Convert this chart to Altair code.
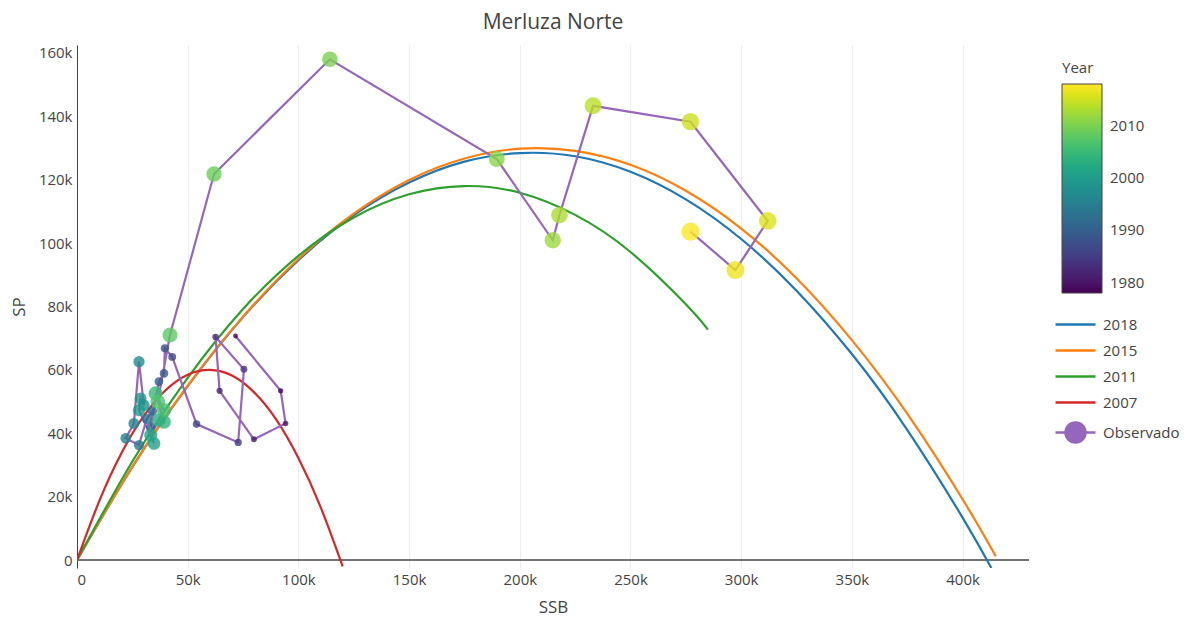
import altair as alt
import pandas as pd

# ---------------- data (values in thousand tonnes) ----------------
years = list(range(1978, 2019))
ssb_obs = [71.6, 92.0, 94.2, 79.9, 64.4, 62.6, 75.4, 72.8, 54.0,
           43.0, 39.7, 39.3, 37.0, 33.3, 34.0, 31.5, 28.0, 22.0, 25.7, 28.0,
           30.2, 28.7, 28.0, 34.8, 33.3, 37.0, 39.3, 35.5, 39.3, 36.5,
           42.0, 61.9, 114.2, 189.6, 214.9, 217.9, 233.1, 277.1, 312.0, 297.4, 277.1]
sp_obs = [70.7, 53.4, 43.1, 38.1, 53.4, 70.4, 60.2, 37.1, 42.9,
          64.1, 66.8, 58.9, 56.3, 42.0, 47.0, 44.5, 36.3, 38.4, 43.1, 62.6,
          48.9, 51.0, 47.3, 36.8, 39.4, 44.2, 43.6, 52.6, 47.3, 50.0,
          71.0, 121.8, 158.0, 126.5, 100.9, 108.8, 143.3, 138.3, 107.0, 91.5, 103.6]

ssb_2018 = [0, 25, 50, 75, 100, 125, 150, 175, 200, 225, 250, 275, 300, 325, 350, 375, 400, 413]
sp_2018 = [0, 29.4, 54.9, 76.7, 94.6, 108.8, 119.1, 125.7, 128.4, 127.4, 122.5, 113.8, 101.3, 85.0, 65.0, 41.1, 13.4, -2.5]

ssb_2015 = [0, 25, 50, 75, 100, 125, 150, 175, 200, 225, 250, 275, 300, 325, 350, 375, 400, 415]
sp_2015 = [0, 29.4, 55.0, 76.8, 95.0, 109.3, 119.9, 126.7, 129.8, 129.1, 124.7, 116.5, 104.6, 88.9, 69.4, 46.2, 19.2, 1.2]

ssb_2011 = [0, 25, 50, 75, 100, 125, 150, 175, 200, 225, 250, 275, 285]
sp_2011 = [0, 31.1, 57.5, 79.2, 96.0, 108.1, 115.4, 118.0, 115.9, 108.9, 97.2, 80.7, 72.7]

ssb_2007 = [0, 10, 20, 30, 40, 50, 60, 70, 80, 90, 100, 110, 120]
sp_2007 = [0, 18.5, 33.6, 45.3, 53.6, 58.5, 60.0, 58.2, 52.9, 44.3, 32.2, 16.8, -2.0]

series_names = ["2018", "2015", "2011", "2007", "Observado"]
series_colors = ["#1f77b4", "#ff7f0e", "#2ca02c", "#d62728", "#9467bd"]

x_ticks = [0, 50000, 100000, 150000, 200000, 250000, 300000, 350000, 400000]
y_ticks = [0, 20000, 40000, 60000, 80000, 100000, 120000, 140000, 160000]
year_ticks = [1980, 1990, 2000, 2010]

# ---------------- tables ----------------
obs = pd.DataFrame({"Year": years,
                    "SSB": [v * 1000 for v in ssb_obs],
                    "SP": [v * 1000 for v in sp_obs]})
obs["series"] = "Observado"

rows = []
for name, xs, ys in [("2018", ssb_2018, sp_2018), ("2015", ssb_2015, sp_2015),
                     ("2011", ssb_2011, sp_2011), ("2007", ssb_2007, sp_2007)]:
    for a, b in zip(xs, ys):
        rows.append({"series": name, "SSB": a * 1000, "SP": b * 1000})
curves = pd.DataFrame(rows)
legend_rows = pd.DataFrame({"series": series_names})

FONT = "Open Sans"
TXT = "#444444"
KFMT = "datum.value == 0 ? '0' : format(datum.value / 1000, 'd') + 'k'"

xscale = alt.Scale(domain=[0, 430000], nice=False, zero=False)
yscale = alt.Scale(domain=[-2500, 162500], nice=False, zero=False)

x_enc = alt.X("SSB:Q", scale=xscale,
              axis=alt.Axis(title="SSB", values=x_ticks, labelExpr=KFMT, domain=False,
                            ticks=False, labelPadding=4, titlePadding=12))
y_enc = alt.Y("SP:Q", scale=yscale,
              axis=alt.Axis(title="SP", values=y_ticks, labelExpr=KFMT, domain=True,
                            domainColor=TXT, ticks=False, labelPadding=5, titlePadding=10))

series_scale = alt.Scale(domain=series_names, range=series_colors)


def ring(r):
    return "M-{r},0A{r},{r},0,1,1,{r},0A{r},{r},0,1,1,-{r},0".format(r=r)


LINE_SYM = "M-2,0H2"
OBS_SYM = LINE_SYM + "".join(ring(r) for r in [1.0, 0.82, 0.64, 0.46, 0.28, 0.1])
shape_scale = alt.Scale(domain=series_names, range=[LINE_SYM, LINE_SYM, LINE_SYM, LINE_SYM, OBS_SYM])


def series_legend():
    return alt.Legend(title=None, orient="none", legendX=987, legendY=268,
                      symbolSize=400, symbolOpacity=1, symbolStrokeWidth=2.5,
                      labelFontSize=15, labelColor=TXT, labelFont=FONT,
                      labelOffset=16, rowPadding=6)


zero = alt.Chart(pd.DataFrame({"z": [0]})).mark_rule(color=TXT, strokeWidth=1.5).encode(
    y=alt.datum(0)
)

legend_layer = alt.Chart(legend_rows).mark_point(filled=False, opacity=0).encode(
    x=alt.value(0), y=alt.value(0),
    color=alt.Color("series:N", scale=series_scale, legend=series_legend()),
    shape=alt.Shape("series:N", scale=shape_scale, legend=series_legend()),
)

curve_layer = alt.Chart(curves).mark_line(strokeWidth=2.2, interpolate="natural", clip=True).encode(
    x=x_enc, y=y_enc,
    color=alt.Color("series:N", scale=series_scale, legend=series_legend()),
    order=alt.Order("SSB:Q"),
)

obs_line = alt.Chart(obs).mark_line(strokeWidth=2.2, clip=True).encode(
    x=x_enc, y=y_enc,
    color=alt.Color("series:N", scale=series_scale, legend=series_legend()),
    order=alt.Order("Year:Q"),
)

obs_pts = alt.Chart(obs).transform_calculate(
    sz="pow(5.5 + (datum.Year - 1978) * 0.38, 2) * 0.785"
).mark_circle(opacity=0.8, clip=True).encode(
    x=x_enc, y=y_enc,
    fill=alt.Fill("Year:Q",
                  scale=alt.Scale(scheme="viridis", domain=[1978, 2018]),
                  legend=alt.Legend(title="Year", orient="none", legendX=985, legendY=16,
                                    values=year_ticks, format="d", gradientLength=209,
                                    gradientThickness=40, gradientStrokeColor=TXT,
                                    gradientStrokeWidth=1, gradientOpacity=1,
                                    labelFontSize=15,
                                    labelColor=TXT, labelFont=FONT, titleFontSize=15,
                                    titleColor=TXT, titleFont=FONT, titleFontWeight="normal",
                                    titlePadding=8, labelOffset=8)),
    size=alt.Size("sz:Q", scale=None),
)

chart = alt.layer(legend_layer, zero, curve_layer, obs_line, obs_pts).properties(
    width=952, height=523,
    title=alt.TitleParams("Merluza Norte", fontSize=21, font=FONT, color=TXT,
                          fontWeight="normal", anchor="middle", offset=9),
    padding={"left": 2, "top": 4, "right": 0, "bottom": 4},
).configure_view(stroke=None).configure_axis(
    gridColor="#eeeeee", gridWidth=1, labelFont=FONT, titleFont=FONT,
    labelFontSize=15, titleFontSize=17, labelColor=TXT, titleColor=TXT,
    titleFontWeight="normal",
)

chart.save("out.html", embed_options={"renderer": "svg", "actions": False})
